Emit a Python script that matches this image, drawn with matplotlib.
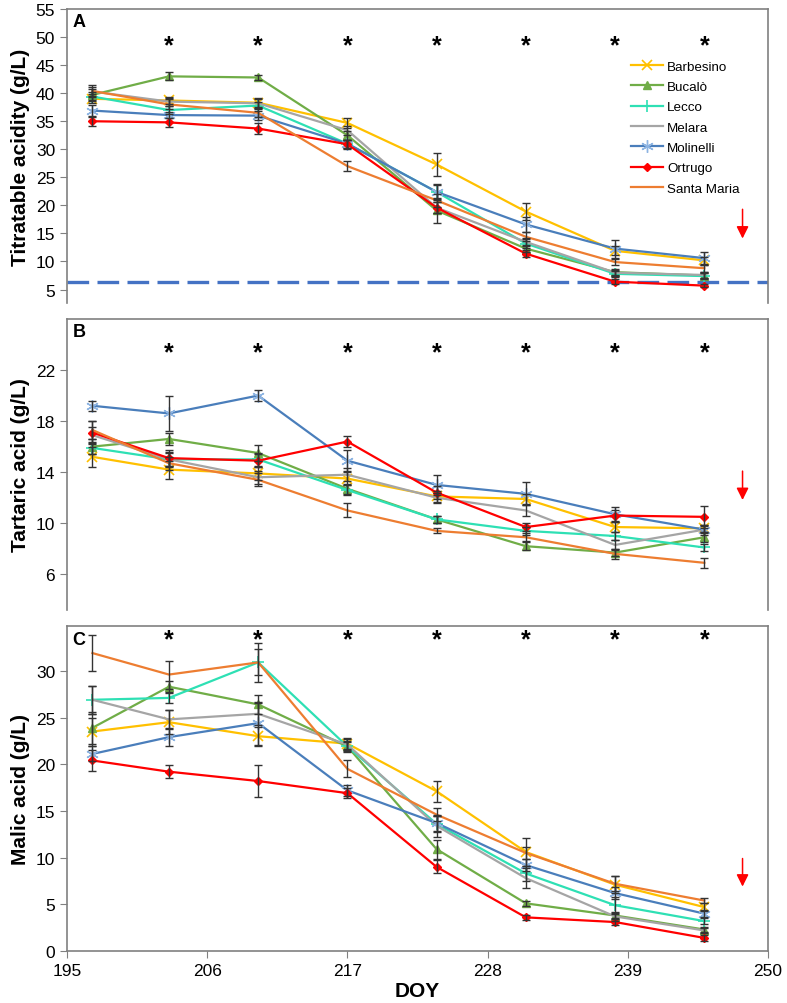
import numpy as np
import matplotlib
matplotlib.use("Agg")
from matplotlib import pyplot as plt

plt.rcParams['font.family'] = ['Liberation Sans', 'DejaVu Sans']

#DATA
doy = [197, 203, 210, 217, 224, 231, 238, 245]
cultivars = ['Barbesino', 'Bucalò', 'Lecco', 'Melara', 'Molinelli', 'Ortrugo', 'Santa Maria']

# titratable acidity (g/L)
ta_mean = {
    'Barbesino':   [39.0, 38.7, 38.3, 34.7, 27.3, 18.9, 11.9, 10.2],
    'Bucalò':      [39.7, 43.0, 42.8, 32.5, 19.1, 12.3, 8.1, 7.5],
    'Lecco':       [39.4, 37.0, 37.8, 31.0, 22.4, 13.2, 7.8, 7.4],
    'Melara':      [40.3, 38.5, 38.2, 33.4, 19.6, 13.5, 8.0, 7.6],
    'Molinelli':   [36.9, 36.1, 36.0, 31.0, 22.4, 16.6, 12.3, 10.6],
    'Ortrugo':     [35.0, 34.8, 33.7, 30.9, 19.6, 11.4, 6.4, 5.7],
    'Santa Maria': [40.4, 38.0, 36.5, 27.0, 20.9, 14.4, 9.9, 8.8],
}
ta_err = {
    'Barbesino':   [0.8, 0.7, 0.8, 0.9, 2.0, 1.5, 0.8, 0.6],
    'Bucalò':      [1.0, 0.7, 0.4, 0.8, 2.3, 0.6, 0.5, 0.5],
    'Lecco':       [0.8, 0.7, 0.6, 0.7, 1.2, 0.8, 0.5, 0.5],
    'Melara':      [0.8, 0.7, 0.8, 0.8, 1.0, 0.7, 0.5, 0.5],
    'Molinelli':   [1.0, 0.6, 0.8, 0.7, 1.5, 1.3, 1.6, 1.15],
    'Ortrugo':     [0.8, 0.75, 1.0, 0.8, 1.0, 0.6, 0.4, 0.3],
    'Santa Maria': [1.0, 0.9, 0.8, 0.95, 1.2, 0.8, 0.6, 0.6],
}

# tartaric acid (g/L)
tart_mean = {
    'Barbesino':   [15.2, 14.2, 13.9, 13.5, 12.1, 11.9, 9.7, 9.6],
    'Bucalò':      [16.0, 16.6, 15.5, 12.7, 10.3, 8.2, 7.7, 8.9],
    'Lecco':       [15.9, 15.0, 15.0, 12.6, 10.3, 9.4, 9.0, 8.1],
    'Melara':      [16.9, 15.0, 13.6, 13.8, 12.0, 11.0, 8.3, 9.5],
    'Molinelli':   [19.2, 18.6, 20.0, 14.9, 13.0, 12.3, 10.7, 9.5],
    'Ortrugo':     [17.1, 15.1, 14.9, 16.4, 12.4, 9.7, 10.6, 10.5],
    'Santa Maria': [17.3, 14.7, 13.4, 11.0, 9.4, 8.9, 7.6, 6.9],
}
tart_err = {
    'Barbesino':   [0.8, 0.7, 0.5, 0.5, 0.4, 0.4, 0.4, 0.3],
    'Bucalò':      [0.6, 0.5, 0.6, 0.4, 0.3, 0.3, 0.3, 0.4],
    'Lecco':       [0.5, 0.5, 0.5, 0.4, 0.3, 0.3, 0.3, 0.3],
    'Melara':      [0.6, 0.6, 0.5, 0.5, 0.4, 0.4, 0.4, 0.3],
    'Molinelli':   [0.4, 1.4, 0.45, 0.8, 0.8, 0.9, 0.6, 0.4],
    'Ortrugo':     [0.9, 0.6, 0.5, 0.4, 0.5, 0.3, 0.4, 0.85],
    'Santa Maria': [0.7, 0.5, 0.5, 0.55, 0.2, 0.3, 0.4, 0.4],
}

# malic acid (g/L)
mal_mean = {
    'Barbesino':   [23.5, 24.5, 23.0, 22.2, 17.1, 10.6, 7.1, 4.7],
    'Bucalò':      [23.9, 28.3, 26.4, 21.9, 10.9, 5.1, 3.8, 2.3],
    'Lecco':       [26.9, 27.1, 30.9, 21.9, 13.6, 8.3, 4.9, 3.2],
    'Melara':      [26.9, 24.8, 25.4, 22.1, 13.4, 7.8, 3.7, 2.2],
    'Molinelli':   [21.1, 22.9, 24.4, 17.2, 13.7, 9.2, 6.2, 4.0],
    'Ortrugo':     [20.4, 19.2, 18.2, 16.9, 9.0, 3.6, 3.1, 1.4],
    'Santa Maria': [31.9, 29.6, 30.9, 19.5, 14.6, 10.5, 7.2, 5.4],
}
mal_err = {
    'Barbesino':   [1.5, 1.3, 1.0, 0.6, 1.1, 1.5, 0.9, 0.4],
    'Bucalò':      [1.7, 0.6, 1.0, 0.6, 1.0, 0.3, 0.3, 0.3],
    'Lecco':       [1.5, 0.5, 2.1, 0.5, 0.9, 0.8, 0.9, 0.3],
    'Melara':      [1.5, 1.0, 1.2, 0.6, 1.2, 1.1, 0.5, 0.3],
    'Molinelli':   [0.8, 1.0, 2.3, 0.6, 0.8, 0.6, 0.6, 0.4],
    'Ortrugo':     [1.15, 0.7, 1.7, 0.5, 0.7, 0.3, 0.3, 0.3],
    'Santa Maria': [1.9, 1.5, 1.4, 0.9, 0.7, 0.6, 0.8, 0.3],
}

sig_doy = [203, 210, 217, 224, 231, 238, 245]
x_ticks = [195, 206, 217, 228, 239, 250]
ta_limit = 6.4

#STYLES
colors = {'Barbesino': '#FFC000', 'Bucalò': '#70AD47', 'Lecco': '#2EE0B4', 'Melara': '#A5A5A5',
          'Molinelli': '#4A7EBB', 'Ortrugo': '#FF0000', 'Santa Maria': '#ED7D31'}
markers = {'Barbesino': dict(marker='x', ms=7, mew=1.2),
           'Bucalò': dict(marker='^', ms=6),
           'Lecco': dict(marker='+', ms=8, mew=1.2),
           'Melara': dict(marker=None),
           'Molinelli': dict(marker=(6, 2, 0), ms=9, mew=1.0, mec='#8DB4E2'),
           'Ortrugo': dict(marker='D', ms=4.5),
           'Santa Maria': dict(marker=None)}

panels = [
    dict(mean=ta_mean, err=ta_err, ylabel='Titratable acidity (g/L)', ylim=(2.6, 55),
         yticks=np.arange(5, 56, 5), tag='A', star_y=48.6, arrow=(19.8, 13.6),
         rect=[0.0851, 0.6972, 0.8908, 0.2928]),
    dict(mean=tart_mean, err=tart_err, ylabel='Tartaric acid (g/L)', ylim=(3.2, 26),
         yticks=[6, 10, 14, 18, 22], tag='B', star_y=23.4, arrow=(14.3, 11.6),
         rect=[0.0851, 0.3914, 0.8908, 0.2899]),
    dict(mean=mal_mean, err=mal_err, ylabel='Malic acid (g/L)', ylim=(0, 34.8),
         yticks=np.arange(0, 31, 5), tag='C', star_y=33.4, arrow=(10.2, 6.6),
         rect=[0.0851, 0.0518, 0.8908, 0.3237]),
]

fig = plt.figure(figsize=(7.87, 10.04), dpi=100)

for i, p in enumerate(panels):
    ax = fig.add_axes(p['rect'])
    handles = []
    for c in cultivars:
        ax.errorbar(doy, p['mean'][c], yerr=p['err'][c], fmt='none', ecolor='#333333',
                    elinewidth=1, capsize=3, capthick=1, zorder=4)
        ln, = ax.plot(doy, p['mean'][c], color=colors[c], lw=1.6, label=c, zorder=3, **markers[c])
        handles.append(ln)

    for d in sig_doy:
        ax.text(d, p['star_y'], '*', fontsize=18, fontweight='bold', ha='center', va='center')

    ax.annotate('', xy=(248, p['arrow'][1]), xytext=(248, p['arrow'][0]),
                arrowprops=dict(arrowstyle='-|>', color='#FF0000', lw=1.1, mutation_scale=18))

    ax.text(0.008, 0.985, p['tag'], transform=ax.transAxes, fontsize=13, fontweight='bold',
            ha='left', va='top')

    ax.set_xlim(195, 250)
    ax.set_ylim(*p['ylim'])
    ax.set_yticks(p['yticks'])
    ax.set_ylabel(p['ylabel'], fontsize=15, fontweight='bold', labelpad=4)
    ax.tick_params(axis='y', labelsize=12.5, direction='out', length=5, color='#808080')
    for s in ax.spines.values():
        s.set_color('#808080')
        s.set_linewidth(1.2)

    if i < 2:
        ax.spines['bottom'].set_visible(False)
        ax.set_xticks([])
    else:
        ax.set_xticks(x_ticks)
        ax.tick_params(axis='x', labelsize=12.5, direction='out', length=5, color='#808080')
        ax.set_xlabel('DOY', fontsize=15, fontweight='bold', labelpad=2)

    if i == 0:
        ax.axhline(ta_limit, color='#4472C4', lw=2.4, dashes=(6.5, 2.5), zorder=2)
        ax.legend(handles=handles, loc='upper left', bbox_to_anchor=(0.805, 0.825), frameon=False,
                  fontsize=9.6, handlelength=2.4, handletextpad=0.3, labelspacing=0.6,
                  borderpad=0, borderaxespad=0)

plt.savefig('out.png', dpi=100)
